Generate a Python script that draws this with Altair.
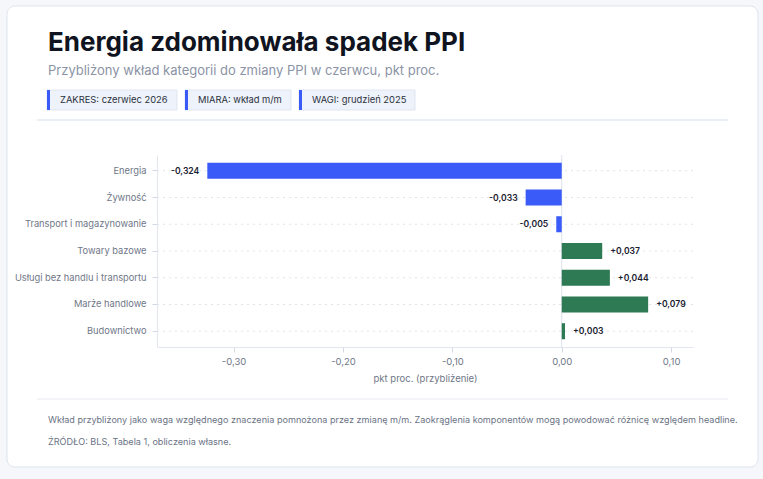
import altair as alt
import pandas as pd

# Contributions to the June PPI change, percentage points
categories = [
    "Energia",
    "Żywność",
    "Transport i magazynowanie",
    "Towary bazowe",
    "Usługi bez handlu i transportu",
    "Marże handlowe",
    "Budownictwo",
]
values = [-0.324, -0.033, -0.005, 0.037, 0.044, 0.079, 0.003]
x_ticks = [-0.3, -0.2, -0.1, 0.0, 0.1]
badges = ["ZAKRES: czerwiec 2026", "MIARA: wkład m/m", "WAGI: grudzień 2025"]

title = "Energia zdominowała spadek PPI"
subtitle = "Przybliżony wkład kategorii do zmiany PPI w czerwcu, pkt proc."
axis_title = "pkt proc. (przybliżenie)"
note = ("Wkład przybliżony jako waga względnego znaczenia pomnożona przez zmianę m/m. "
        "Zaokrąglenia komponentów mogą powodować różnicę względem headline.")
source = "ŹRÓDŁO: BLS, Tabela 1, obliczenia własne."


def fmt(v):
    return f"{v:+.3f}".replace(".", ",")


df = pd.DataFrame({
    "kategoria": categories,
    "wartosc": values,
    "znak": ["neg" if v < 0 else "pos" for v in values],
    "etykieta": [fmt(v) for v in values],
})

FONT = "Inter"
BLUE = "#3a5bf7"
GREEN = "#2d7a55"
W, H = 536, 192
TOP = 155

x_scale = alt.Scale(domain=[-0.37, 0.12], nice=False, zero=False)
y_scale = alt.Scale(domain=categories, paddingInner=0.4, paddingOuter=0.29)

x_axis = alt.Axis(
    values=x_ticks, title=axis_title, grid=False, zindex=1,
    labelExpr="replace(replace(format(datum.value, '.2f'), '.', ','), '\u2212', '-')",
)
y_axis = alt.Axis(title=None, grid=False, zindex=1, bandPosition=0.5)

X = lambda f: alt.X(f, scale=x_scale, axis=x_axis)
Y = alt.Y("kategoria:N", scale=y_scale, sort=categories, axis=y_axis)

one = alt.Data(values=[{}])


def py(y):
    # page y -> plot-relative y
    return y - TOP


# card behind everything
card = alt.Chart(one).mark_rect(
    fill="white", stroke="#dde3ee", strokeWidth=1, cornerRadius=8
).encode(x=alt.value(-150), x2=alt.value(601), y=alt.value(py(6)), y2=alt.value(py(467)))

# header texts
head = alt.Chart(one).mark_text(
    text=title, font=FONT, fontSize=26, fontWeight=700, color="#0f1420",
    align="left", baseline="alphabetic"
).encode(x=alt.value(-109), y=alt.value(py(51)))

sub = alt.Chart(one).mark_text(
    text=subtitle, font=FONT, fontSize=13, color="#8b93a5",
    align="left", baseline="alphabetic"
).encode(x=alt.value(-109), y=alt.value(py(75)))

# badges
badge_x = [(-110, 20), (28, 134), (142, 258)]
badge_layers = []
for (bx0, bx1), txt in zip(badge_x, badges):
    badge_layers.append(alt.Chart(one).mark_rect(
        fill="#eef2fa", stroke="#dfe5f0", strokeWidth=1
    ).encode(x=alt.value(bx0), x2=alt.value(bx1), y=alt.value(py(90)), y2=alt.value(py(110))))
    badge_layers.append(alt.Chart(one).mark_rect(fill=BLUE).encode(
        x=alt.value(bx0), x2=alt.value(bx0 + 3), y=alt.value(py(90)), y2=alt.value(py(110))))
    badge_layers.append(alt.Chart(one).mark_text(
        text=txt, font=FONT, fontSize=9.4, color="#2a3140", align="left", baseline="middle"
    ).encode(x=alt.value(bx0 + 13), y=alt.value(py(100))))

divider_top = alt.Chart(one).mark_rule(color="#e3e8f2", strokeWidth=1.5).encode(
    x=alt.value(-120), x2=alt.value(571), y=alt.value(py(120)))
divider_bottom = alt.Chart(one).mark_rule(color="#eef1f6", strokeWidth=1.5).encode(
    x=alt.value(-120), x2=alt.value(571), y=alt.value(py(399)))

foot1 = alt.Chart(one).mark_text(
    text=note, font=FONT, fontSize=9.1, color="#6b7385", align="left", baseline="alphabetic"
).encode(x=alt.value(-109), y=alt.value(py(423)))
foot2 = alt.Chart(one).mark_text(
    text=source, font=FONT, fontSize=9.1, color="#6b7385", align="left", baseline="alphabetic"
).encode(x=alt.value(-109), y=alt.value(py(445)))

base = alt.Chart(df)

grid = base.mark_rule(color="#dfe4ec", strokeDash=[2, 4], strokeWidth=1).encode(
    y=Y, x=alt.value(0), x2=alt.value(W),
)

zero = alt.Chart(alt.Data(values=[{"wartosc": 0}])).mark_rule(color="#d9e0ec", strokeWidth=1).encode(
    x=X("wartosc:Q")
)

bars = base.mark_bar().encode(
    x=X("wartosc:Q"),
    x2=alt.datum(0),
    y=Y,
    color=alt.Color("znak:N", scale=alt.Scale(domain=["neg", "pos"], range=[BLUE, GREEN]), legend=None),
)

lab_neg = base.transform_filter("datum.wartosc < 0").mark_text(
    align="right", dx=-8, font=FONT, fontSize=8.6, fontWeight=600, color="#1a2130", baseline="middle"
).encode(x=X("wartosc:Q"), y=Y, text="etykieta:N")

lab_pos = base.transform_filter("datum.wartosc >= 0").mark_text(
    align="left", dx=8, font=FONT, fontSize=8.6, fontWeight=600, color="#1a2130", baseline="middle"
).encode(x=X("wartosc:Q"), y=Y, text="etykieta:N")

chart = alt.layer(
    card, head, sub, *badge_layers, divider_top, divider_bottom, foot1, foot2,
    grid, zero, bars, lab_neg, lab_pos,
).properties(
    width=W, height=H,
    autosize=alt.AutoSizeParams(type="none"),
    padding={"left": 157, "top": TOP, "right": 70, "bottom": 479 - TOP - H},
    background="#f5f7fb",
).configure_view(stroke=None).configure_axis(
    labelFont=FONT, titleFont=FONT, titleFontSize=9.5,
    labelColor="#6f7787", titleColor="#6f7787", titleFontWeight="normal",
    domainColor="#e1e6ef", tickColor="#d3d9e4", tickSize=5,
).configure_axisX(
    labelFontSize=9.5, labelPadding=4, titlePadding=8,
).configure_axisY(
    labelFontSize=9.3, labelPadding=6,
)

chart.save("out.html", embed_options={"renderer": "svg", "actions": False})
